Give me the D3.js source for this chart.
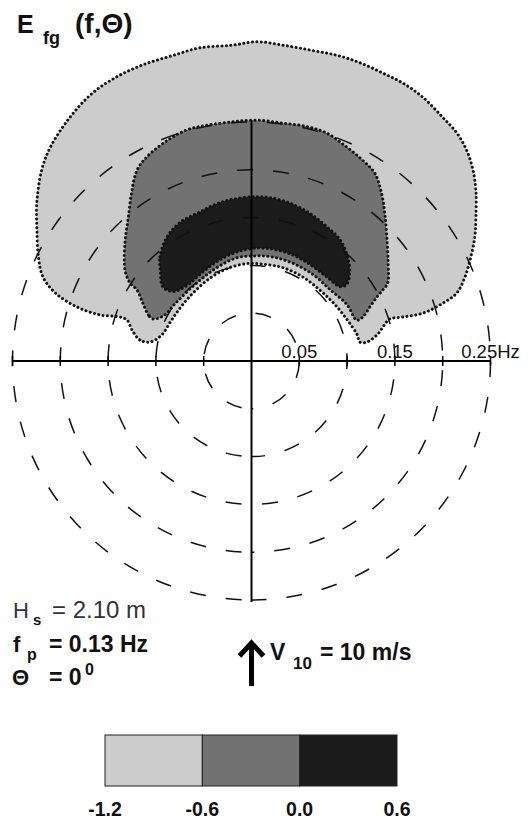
<!DOCTYPE html>
<html>
<head>
<meta charset="utf-8">
<script src="https://cdn.jsdelivr.net/npm/d3@7"></script>
<style>
body { margin: 0; background: #fff; }
svg { display: block; font-family: "Liberation Sans", Arial, sans-serif; }
</style>
</head>
<body>
<div class="chart"></div>
<script>
// frequency rings and axis labels (Hz)
var rings = [0.05, 0.10, 0.15, 0.20, 0.25];
var axisLabelFreqs = [0.05, 0.15, 0.25];
var axisLabelTexts = ["0.05", "0.15", "0.25Hz"];

// colour levels of the legend
var levels = [-1.2, -0.6, 0.0, 0.6];
var levelLabels = ["-1.2", "-0.6", "0.0", "0.6"];

// contour bands: [direction in degrees (0 = up, clockwise), frequency in Hz]
var bandLow = [
  [-79.4, 0.108], [-79.3, 0.119], [-75.5, 0.129], [-71.8, 0.137], [-71.5, 0.145],
  [-73.1, 0.166], [-72.8, 0.191], [-70.9, 0.217], [-68.1, 0.235], [-64.0, 0.248],
  [-58.6, 0.263], [-53.6, 0.279], [-47.6, 0.297], [-43.3, 0.307], [-36.6, 0.318],
  [-30.6, 0.326], [-25.3, 0.329], [-20.1, 0.330], [-14.4, 0.330], [-9.3, 0.332],
  [-3.4, 0.331], [1.0, 0.334], [5.7, 0.332], [10.7, 0.331], [15.6, 0.332],
  [20.0, 0.332], [24.5, 0.331], [28.6, 0.331], [33.0, 0.329], [38.1, 0.324],
  [42.0, 0.321], [45.6, 0.315], [49.2, 0.306], [52.7, 0.295], [57.3, 0.279],
  [61.0, 0.267], [64.6, 0.254], [68.5, 0.240], [71.7, 0.226], [73.2, 0.209],
  [74.4, 0.186], [73.8, 0.165], [73.1, 0.151], [74.8, 0.144], [78.0, 0.135],
  [80.7, 0.122], [80.1, 0.115], [76.2, 0.114], [66.8, 0.109], [54.6, 0.105],
  [44.0, 0.103], [31.5, 0.103], [18.7, 0.103], [6.8, 0.102], [-2.7, 0.102],
  [-14.8, 0.100], [-26.3, 0.097], [-39.5, 0.094], [-51.9, 0.093], [-63.3, 0.094],
  [-74.1, 0.098]
];

var bandMid = [
  [-66.9, 0.112], [-66.0, 0.118], [-61.9, 0.129], [-58.2, 0.141], [-57.3, 0.151],
  [-54.3, 0.163], [-47.0, 0.181], [-40.6, 0.198], [-35.0, 0.218], [-30.9, 0.233],
  [-27.1, 0.240], [-20.9, 0.247], [-15.6, 0.251], [-10.7, 0.251], [-4.4, 0.251],
  [1.3, 0.252], [7.5, 0.251], [13.3, 0.252], [18.3, 0.251], [24.0, 0.245],
  [29.0, 0.240], [33.3, 0.235], [37.8, 0.222], [42.1, 0.208], [47.5, 0.192],
  [54.3, 0.176], [60.3, 0.164], [61.6, 0.156], [63.0, 0.147], [65.5, 0.136],
  [68.5, 0.125], [68.8, 0.118], [59.6, 0.116], [47.9, 0.111], [35.6, 0.111],
  [22.9, 0.111], [11.7, 0.111], [1.9, 0.110], [-8.0, 0.109], [-18.2, 0.105],
  [-29.4, 0.101], [-41.5, 0.099], [-53.5, 0.100], [-62.5, 0.103]
];

var bandHigh = [
  [-45.8, 0.133], [-41.3, 0.145], [-34.3, 0.157], [-27.4, 0.163], [-19.1, 0.165],
  [-11.3, 0.169], [-4.0, 0.171], [1.9, 0.172], [6.5, 0.172], [13.7, 0.170],
  [21.6, 0.166], [29.4, 0.161], [36.2, 0.157], [42.9, 0.148], [48.2, 0.138],
  [51.1, 0.128], [50.1, 0.121], [42.0, 0.118], [31.4, 0.118], [21.4, 0.119],
  [10.9, 0.119], [1.8, 0.118], [-7.6, 0.115], [-17.3, 0.111], [-28.9, 0.106],
  [-41.1, 0.104], [-48.7, 0.110], [-50.1, 0.121]
];

var bandColors = ["#cccccc", "#727272", "#1b1b1b"];

var svgWidth = 532;
var svgHeight = 821;
var cx = 251.5;
var cy = 361;

var svg = d3.select(".chart")
  .append("svg")
  .attr("width", svgWidth)
  .attr("height", svgHeight);

var rScale = d3.scaleLinear().domain([0, 0.25]).range([0, 239]);
var xScale = d3.scaleLinear().domain([-0.25, 0.25]).range([cx - rScale(0.25), cx + rScale(0.25)]);

var plot = svg.append("g")
  .attr("transform", `translate(${cx}, ${cy})`);

// filled contour bands
var bandLine = d3.lineRadial()
  .angle(d => d[0] * Math.PI / 180)
  .radius(d => rScale(d[1]))
  .curve(d3.curveCatmullRomClosed.alpha(0.5));

var bands = [bandLow, bandMid, bandHigh];

plot.selectAll(".band")
  .data(bands)
  .enter()
  .append("path")
  .attr("class", "band")
  .attr("d", bandLine)
  .attr("fill", (d, i) => bandColors[i])
  .attr("stroke", "#111")
  .attr("stroke-width", 3)
  .attr("stroke-linecap", "round")
  .attr("stroke-dasharray", "0.01,4.4");

// dashed frequency circles
var ringArc = d3.arc()
  .innerRadius(0)
  .outerRadius(d => rScale(d))
  .startAngle(Math.PI)
  .endAngle(3 * Math.PI);

plot.selectAll(".ring")
  .data(rings)
  .enter()
  .append("path")
  .attr("class", "ring")
  .attr("d", ringArc)
  .attr("fill", "none")
  .attr("stroke", "#111")
  .attr("stroke-width", 1.5)
  .attr("stroke-dasharray", "16,20")
  .attr("stroke-dashoffset", 26);

// axes through the centre
svg.append("line")
  .attr("x1", xScale(-0.25)).attr("x2", xScale(0.25))
  .attr("y1", cy).attr("y2", cy)
  .attr("stroke", "#000").attr("stroke-width", 2.2);

svg.append("line")
  .attr("x1", cx).attr("x2", cx)
  .attr("y1", cy - rScale(0.252)).attr("y2", cy + rScale(0.252))
  .attr("stroke", "#000").attr("stroke-width", 2);

var tickVals = rings.map(d => -d).concat(rings);

svg.selectAll(".tick")
  .data(tickVals)
  .enter()
  .append("line")
  .attr("class", "tick")
  .attr("x1", d => xScale(d)).attr("x2", d => xScale(d))
  .attr("y1", cy - 5).attr("y2", cy + 5)
  .attr("stroke", "#000").attr("stroke-width", 1.5);

svg.selectAll(".axlabel")
  .data(axisLabelFreqs)
  .enter()
  .append("text")
  .attr("class", "axlabel")
  .attr("x", d => xScale(d))
  .attr("y", cy - 3)
  .attr("text-anchor", "middle")
  .attr("font-size", 18.5)
  .attr("fill", "#111")
  .text((d, i) => axisLabelTexts[i]);

// title
var title = svg.append("g").attr("font-weight", "bold").attr("fill", "#111");
title.append("text").attr("x", 17).attr("y", 33).attr("font-size", 25).text("E");
title.append("text").attr("x", 43).attr("y", 44).attr("font-size", 18).text("fg");
title.append("text").attr("x", 75).attr("y", 33).attr("font-size", 28).text("(f,\u0398)");

// sea state parameters
var info = svg.append("g").attr("fill", "#111");
info.append("text").attr("x", 13).attr("y", 618).attr("font-size", 22).attr("fill", "#333").text("H");
info.append("text").attr("x", 33).attr("y", 625).attr("font-size", 15).attr("font-weight", "bold").text("s");
info.append("text").attr("x", 52).attr("y", 618).attr("font-size", 24).attr("fill", "#333").text("= 2.10 m");

info.append("text").attr("x", 13).attr("y", 652).attr("font-size", 22).attr("font-weight", "bold").text("f");
info.append("text").attr("x", 27).attr("y", 660).attr("font-size", 16).attr("font-weight", "bold").text("p");
info.append("text").attr("x", 49).attr("y", 652).attr("font-size", 23).attr("font-weight", "bold").text("= 0.13 Hz");

info.append("text").attr("x", 12).attr("y", 685).attr("font-size", 22).attr("font-weight", "bold").text("\u0398");
info.append("text").attr("x", 49).attr("y", 685).attr("font-size", 23).attr("font-weight", "bold").text("= 0");
info.append("text").attr("x", 85).attr("y", 675).attr("font-size", 16).attr("font-weight", "bold").text("0");

// wind arrow
var arrowX = xScale(0);
svg.append("path")
  .attr("d", `M${arrowX},686 L${arrowX},644 M${arrowX - 12},656 L${arrowX},643 L${arrowX + 12},656`)
  .attr("fill", "none")
  .attr("stroke", "#000")
  .attr("stroke-width", 5);

info.append("text").attr("x", 270).attr("y", 660).attr("font-size", 23).attr("font-weight", "bold").text("V");
info.append("text").attr("x", 293).attr("y", 669).attr("font-size", 17).attr("font-weight", "bold").text("10");
info.append("text").attr("x", 320).attr("y", 660).attr("font-size", 23).attr("font-weight", "bold").text("= 10 m/s");

// legend
var legendScale = d3.scaleLinear().domain([-1.2, 0.6]).range([105, 397]);

svg.selectAll(".legbox")
  .data(levels.slice(0, 3))
  .enter()
  .append("rect")
  .attr("class", "legbox")
  .attr("x", (d, i) => legendScale(d))
  .attr("y", 735)
  .attr("width", (d, i) => legendScale(levels[i + 1]) - legendScale(d))
  .attr("height", 51)
  .attr("fill", (d, i) => bandColors[i])
  .attr("stroke", "#222")
  .attr("stroke-width", 1);

svg.selectAll(".leglabel")
  .data(levels)
  .enter()
  .append("text")
  .attr("class", "leglabel")
  .attr("x", d => legendScale(d))
  .attr("y", 816)
  .attr("text-anchor", "middle")
  .attr("font-size", 19.5)
  .attr("font-weight", "bold")
  .attr("fill", "#111")
  .text((d, i) => levelLabels[i]);
</script>
</body>
</html>
